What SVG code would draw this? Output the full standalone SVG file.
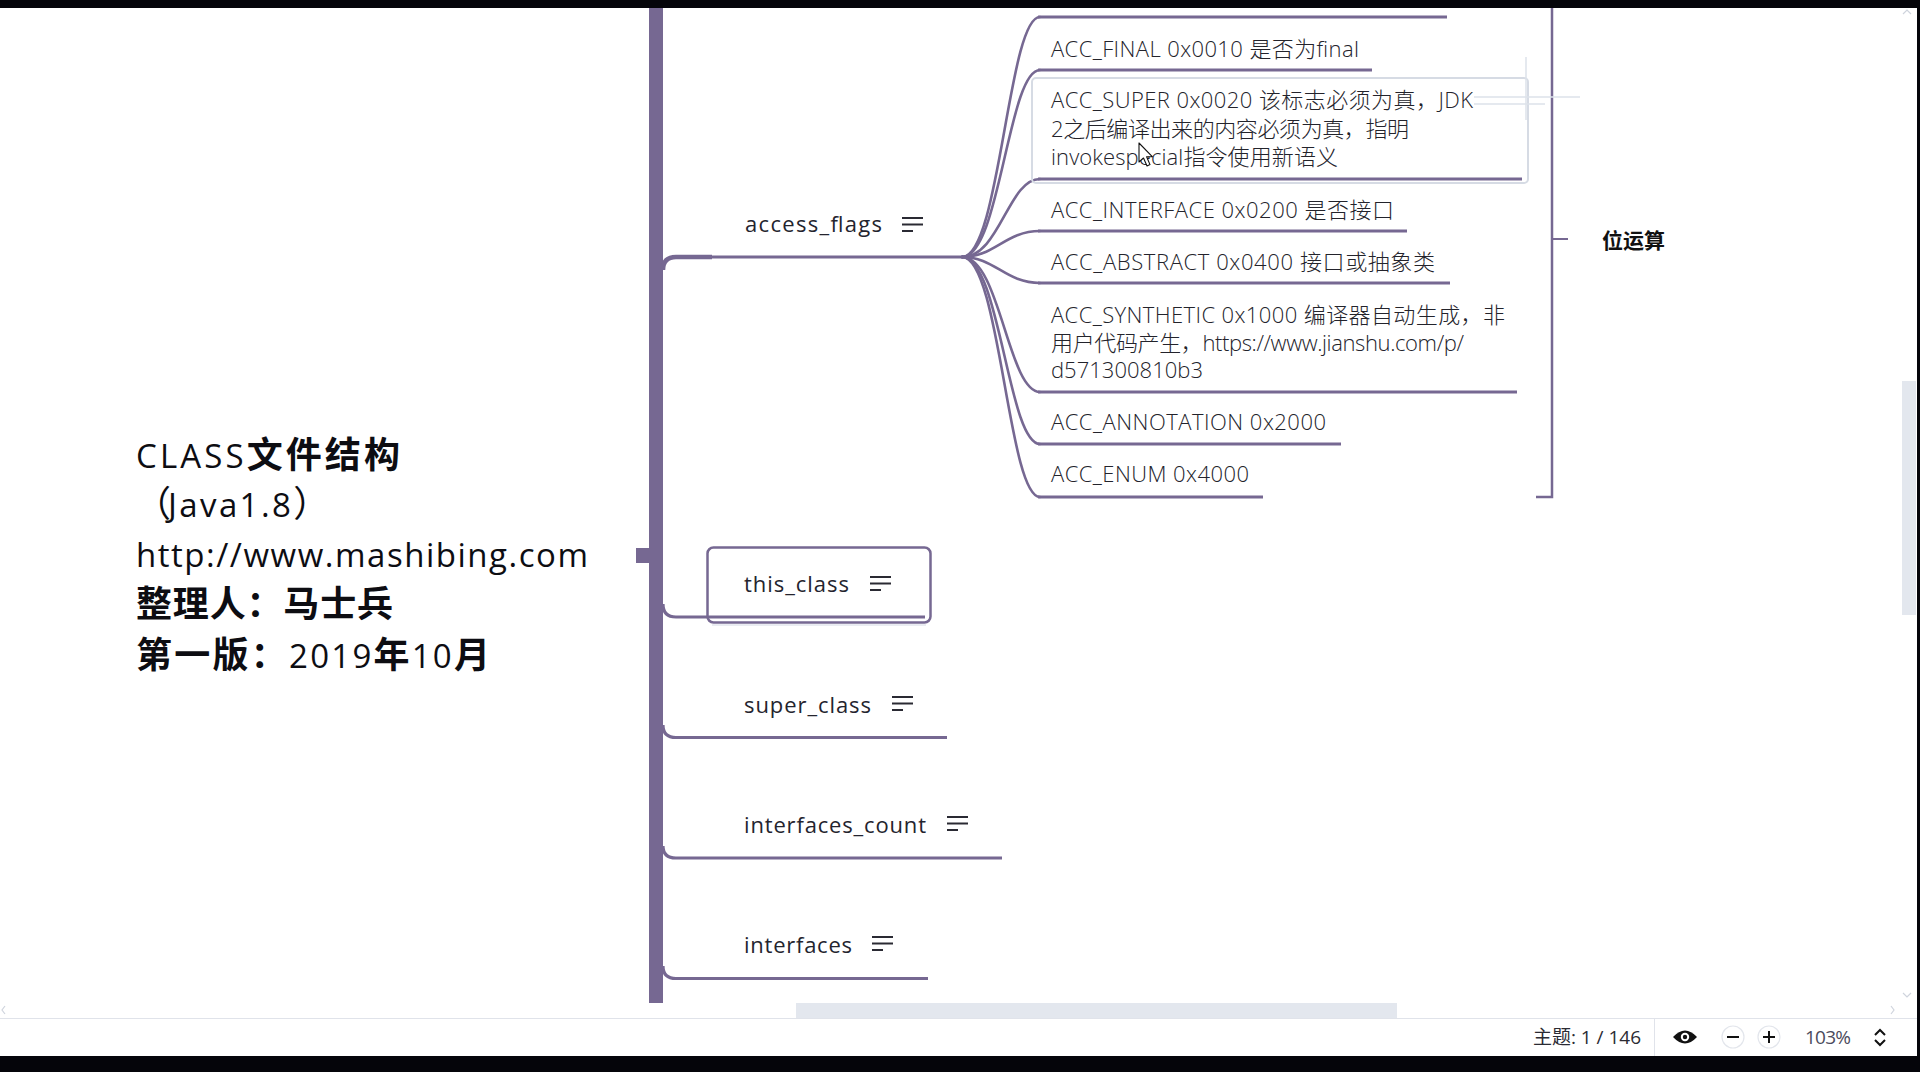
<svg xmlns="http://www.w3.org/2000/svg" xmlns:xlink="http://www.w3.org/1999/xlink" width="1920" height="1072" viewBox="0 0 1920 1072">
<style>
.bg{fill:#ffffff}
.blk{fill:#05050a}
.br{fill:none;stroke:#766892;stroke-width:2.6;stroke-linecap:round}
.ul{fill:none;stroke:#766892;stroke-width:3.2;stroke-linecap:butt}
.acc{font-family:"Open Sans","Noto Sans CJK SC",sans-serif;font-size:22px;font-weight:300;fill:#23232b}
.node{font-family:"Open Sans","Noto Sans CJK SC",sans-serif;font-size:22px;fill:#24242e}
.lat{font-family:"Open Sans","Noto Sans CJK SC",sans-serif;font-size:33px;font-weight:normal;fill:#0d0d12}
.cjk{font-family:"Noto Sans CJK SC",sans-serif;font-size:36px;font-weight:bold;fill:#0d0d12}
.menu{stroke:#2a2a33;stroke-width:2;fill:none}
.ui{font-family:"Open Sans","Noto Sans CJK SC",sans-serif;font-size:19px}
.faint{fill:none;stroke:#dde2ea;stroke-width:1.5}
</style>
<defs>
<symbol id="menu" viewBox="0 0 21 15" width="21" height="15" overflow="visible">
<line class="menu" x1="0" y1="1" x2="21" y2="1"/>
<line class="menu" x1="0" y1="7.5" x2="21" y2="7.5"/>
<line class="menu" x1="0" y1="14" x2="11" y2="14"/>
</symbol>
</defs>
<rect class="bg" x="0" y="0" width="1920" height="1072"/>

<g id="connectors">
<rect x="649" y="8" width="14" height="995" fill="#766892"/>
<rect x="636" y="548" width="14" height="15" fill="#766892"/>
<path d="M663 270 Q663 257 676 257 L712 257" fill="none" stroke="#766892" stroke-width="4.5"/>
<line class="ul" x1="700" y1="257" x2="963" y2="257"/>
<path class="ul" d="M663 604 Q663 617 676 617 L925 617"/>
<path class="ul" d="M663 725 Q663 737.5 676 737.5 L947 737.5"/>
<path class="ul" d="M663 846 Q663 858 676 858 L1002 858"/>
<path class="ul" d="M663 966 Q663 978.5 676 978.5 L928 978.5"/>
<path class="br" d="M962 257 C1000 257 1008 17 1040 17"/>
<path class="br" d="M962 257 C1000 257 1008 70 1040 70"/>
<path class="br" d="M962 257 C1000 257 1008 179 1040 179"/>
<path class="br" d="M962 257 C995 257 1005 231 1040 231"/>
<path class="br" d="M962 257 C995 257 1005 283 1040 283"/>
<path class="br" d="M962 257 C1000 257 1008 392 1040 392"/>
<path class="br" d="M962 257 C1000 257 1008 444 1040 444"/>
<path class="br" d="M962 257 C1000 257 1008 497 1040 497"/>
<line class="ul" x1="1038" y1="17" x2="1447" y2="17"/>
<line class="ul" x1="1038" y1="70" x2="1372" y2="70"/>
<line class="ul" x1="1038" y1="179" x2="1522" y2="179"/>
<line class="ul" x1="1038" y1="231" x2="1407" y2="231"/>
<line class="ul" x1="1038" y1="283" x2="1450" y2="283"/>
<line class="ul" x1="1038" y1="392" x2="1517" y2="392"/>
<line class="ul" x1="1038" y1="444" x2="1341" y2="444"/>
<line class="ul" x1="1038" y1="497" x2="1263" y2="497"/>
</g>

<g id="root">
<text x="136" y="468" textLength="264" lengthAdjust="spacing"><tspan class="lat">CLASS</tspan><tspan class="cjk">文件结构</tspan></text>
<text y="517"><tspan class="cjk" x="135" style="font-weight:normal">（</tspan><tspan class="lat" x="168" letter-spacing="2.4">Java1.8</tspan><tspan class="cjk" style="font-weight:normal">）</tspan></text>
<text class="lat" x="136" y="567" textLength="452" lengthAdjust="spacing">http://www.mashibing.com</text>
<text class="cjk" x="136" y="617" textLength="257" lengthAdjust="spacing">整理人：马士兵</text>
<text x="136" y="668" textLength="354" lengthAdjust="spacing"><tspan class="cjk">第一版：</tspan><tspan class="lat">2019</tspan><tspan class="cjk">年</tspan><tspan class="lat">10</tspan><tspan class="cjk">月</tspan></text>
</g>

<g id="access_flags">
<text class="node" x="745" y="232" textLength="137" lengthAdjust="spacing">access_flags</text>
<use href="#menu" x="902" y="217"/>
</g>

<g id="this_class">
<rect x="707.5" y="547.5" width="223" height="75" rx="6" fill="none" stroke="#766892" stroke-width="2.5"/>
<line x1="712" y1="625" x2="926" y2="625" stroke="#e3e6ee" stroke-width="1.5"/>
<text class="node" x="744" y="592" textLength="105" lengthAdjust="spacing">this_class</text>
<use href="#menu" x="870" y="576"/>
</g>

<g id="super_class">
<text class="node" x="744" y="713" textLength="127" lengthAdjust="spacing">super_class</text>
<use href="#menu" x="892" y="696"/>
</g>

<g id="interfaces_count">
<text class="node" x="744" y="833" textLength="182" lengthAdjust="spacing">interfaces_count</text>
<use href="#menu" x="947" y="816"/>
</g>

<g id="interfaces">
<text class="node" x="744" y="953" textLength="108" lengthAdjust="spacing">interfaces</text>
<use href="#menu" x="872" y="936"/>
</g>

<g id="acc_final">
<text class="acc" x="1051" y="57" textLength="308" lengthAdjust="spacing">ACC_FINAL 0x0010 是否为final</text>
</g>

<g id="acc_super">
<rect x="1032" y="78" width="496" height="105" rx="4" fill="none" stroke="#d6dbe4" stroke-width="2"/>
<text class="acc" x="1051" y="108" textLength="422" lengthAdjust="spacing">ACC_SUPER 0x0020 该标志必须为真，JDK</text>
<text class="acc" x="1051" y="137" textLength="358" lengthAdjust="spacing">2之后编译出来的内容必须为真，指明</text>
<text class="acc" x="1051" y="165" textLength="287" lengthAdjust="spacing">invokespecial指令使用新语义</text>
</g>

<g id="acc_interface">
<text class="acc" x="1051" y="218" textLength="343" lengthAdjust="spacing">ACC_INTERFACE 0x0200 是否接口</text>
</g>

<g id="acc_abstract">
<text class="acc" x="1051" y="270" textLength="384" lengthAdjust="spacing">ACC_ABSTRACT 0x0400 接口或抽象类</text>
</g>

<g id="acc_synthetic">
<text class="acc" x="1051" y="323" textLength="454" lengthAdjust="spacing">ACC_SYNTHETIC 0x1000 编译器自动生成，非</text>
<text class="acc" x="1051" y="351" textLength="413" lengthAdjust="spacing">用户代码产生，https://www.jianshu.com/p/</text>
<text class="acc" x="1051" y="378" textLength="152" lengthAdjust="spacing">d571300810b3</text>
</g>

<g id="acc_annotation">
<text class="acc" x="1051" y="430" textLength="275" lengthAdjust="spacing">ACC_ANNOTATION 0x2000</text>
</g>

<g id="acc_enum">
<text class="acc" x="1051" y="482" textLength="198" lengthAdjust="spacing">ACC_ENUM 0x4000</text>
</g>

<g id="summary">
<path d="M1552 8 L1552 497 L1536 497" fill="none" stroke="#766892" stroke-width="2.5"/>
<line x1="1552" y1="239" x2="1568" y2="239" stroke="#766892" stroke-width="2"/>
<text x="1602" y="248" style="font-family:'Noto Sans CJK SC',sans-serif;font-size:21px;font-weight:bold;fill:#111">位运算</text>
</g>

<g id="artifacts">
<line class="faint" x1="1474" y1="97" x2="1580" y2="97"/>
<line class="faint" x1="1474" y1="104" x2="1545" y2="104"/>
<line class="faint" x1="1526" y1="57" x2="1526" y2="120"/>
<path d="M1139 143 L1139 162 L1143.5 158 L1147 166 L1150 164.6 L1146.6 156.8 L1152.5 156.8 Z" fill="#ffffff" stroke="#111" stroke-width="1.1" stroke-linejoin="round"/>
</g>

<g id="chrome">
<rect x="796" y="1003" width="601" height="15" fill="#e3e7ee"/>
<rect x="1902" y="381" width="14" height="234" fill="#e3e7ee"/>
<polyline points="1903,14 1907,10 1911,14" fill="none" stroke="#cfd4dd" stroke-width="1.2"/>
<polyline points="1903,993 1907,997 1911,993" fill="none" stroke="#cfd4dd" stroke-width="1.2"/>
<polyline points="5,1006 2,1010 5,1014" fill="none" stroke="#cfd4dd" stroke-width="1.2"/>
<polyline points="1891,1006 1894,1010 1891,1014" fill="none" stroke="#cfd4dd" stroke-width="1.2"/>
<line x1="0" y1="1018.5" x2="1917" y2="1018.5" stroke="#e0e3ea" stroke-width="1"/>
<line x1="1654.5" y1="1019" x2="1654.5" y2="1056" stroke="#e0e3ea" stroke-width="1"/>
<text class="ui" x="1533" y="1044" fill="#2b2b33" textLength="108" lengthAdjust="spacing">主题: 1 / 146</text>
<path d="M1673 1037 Q1685 1024 1697 1037 Q1685 1050 1673 1037 Z" fill="#111"/>
<circle cx="1685" cy="1037" r="4.2" fill="#fff"/>
<circle cx="1685" cy="1037" r="2.2" fill="#111"/>
<circle cx="1733" cy="1037" r="11" fill="none" stroke="#e3e6ec" stroke-width="1.2"/>
<line x1="1727" y1="1037" x2="1739" y2="1037" stroke="#111" stroke-width="2"/>
<circle cx="1769" cy="1037" r="11" fill="none" stroke="#e3e6ec" stroke-width="1.2"/>
<line x1="1763" y1="1037" x2="1775" y2="1037" stroke="#111" stroke-width="2"/>
<line x1="1769" y1="1031" x2="1769" y2="1043" stroke="#111" stroke-width="2"/>
<text class="ui" x="1805" y="1044" fill="#4b4b5c" textLength="46" lengthAdjust="spacing">103%</text>
<polyline points="1875,1035 1880,1030 1885,1035" fill="none" stroke="#111" stroke-width="2"/>
<polyline points="1875,1040 1880,1045 1885,1040" fill="none" stroke="#111" stroke-width="2"/>
<rect class="blk" x="0" y="0" width="1920" height="8"/>
<rect class="blk" x="0" y="1056" width="1920" height="16"/>
<rect class="blk" x="1917" y="0" width="3" height="1072"/>
</g>
</svg>
